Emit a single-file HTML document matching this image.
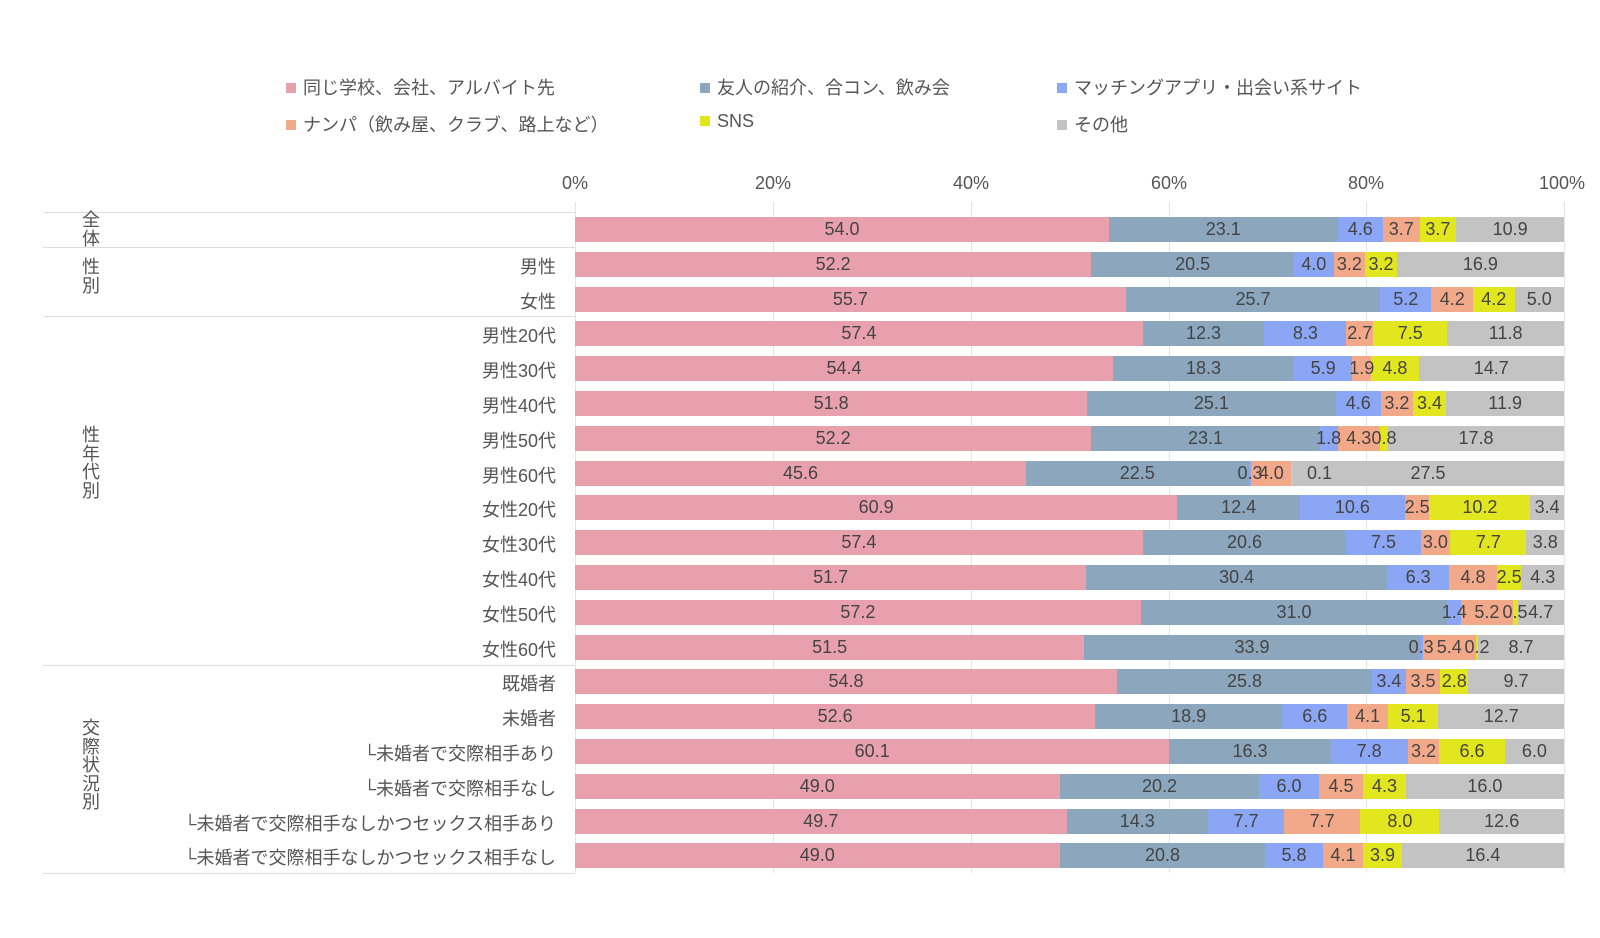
<!DOCTYPE html><html><head><meta charset="utf-8"><style>
body{margin:0;width:1600px;height:938px;background:#fff;font-family:"Liberation Sans","Noto Sans CJK JP",sans-serif;color:#555;position:relative;overflow:hidden}
.a{position:absolute}
.leg{font-size:18px;color:#555;white-space:nowrap}
.leg i{display:inline-block;width:10px;height:10px;margin-right:7px;vertical-align:1px}
.bar{position:absolute;left:575px;width:989px;height:25px;display:flex}
.bar span{display:flex;align-items:center;justify-content:center;font-size:18px;color:#444;white-space:nowrap;min-width:0;overflow:visible}
.bar span b{font-weight:normal;position:relative;z-index:1}
.p{background:#E8A1AC}.b{background:#8CA6BE}.u{background:#8AA6F5}.o{background:#F2A98A}.y{background:#E2E61E}.g{background:#C3C3C3}
.rl{position:absolute;right:1044px;font-size:18px;color:#555;white-space:nowrap;text-align:right}
.gl{position:absolute;left:81px;width:20px;font-size:18px;line-height:18.5px;text-align:center;color:#555}
.hl{position:absolute;left:43px;width:532px;height:1px;background:#ddd}
.vl{position:absolute;top:202px;height:671px;width:1px;background:#e4e4e4}
.tk{position:absolute;top:173px;font-size:18px;color:#555;transform:translateX(-50%)}
</style></head><body>
<div class="a leg" style="left:286px;top:74px"><i class="p"></i>同じ学校、会社、アルバイト先</div>
<div class="a leg" style="left:700px;top:74px"><i class="b"></i>友人の紹介、合コン、飲み会</div>
<div class="a leg" style="left:1057px;top:74px"><i class="u"></i>マッチングアプリ・出会い系サイト</div>
<div class="a leg" style="left:286px;top:111px"><i class="o"></i>ナンパ（飲み屋、クラブ、路上など）</div>
<div class="a leg" style="left:700px;top:111px"><i class="y"></i>SNS</div>
<div class="a leg" style="left:1057px;top:111px"><i class="g"></i>その他</div>
<div class="tk" style="left:575px">0%</div><div class="tk" style="left:773px">20%</div><div class="tk" style="left:971px">40%</div><div class="tk" style="left:1169px">60%</div><div class="tk" style="left:1366px">80%</div><div class="tk" style="left:1562px">100%</div>
<div class="vl" style="left:575px"></div><div class="vl" style="left:773px"></div><div class="vl" style="left:971px"></div><div class="vl" style="left:1169px"></div><div class="vl" style="left:1366px"></div><div class="vl" style="left:1564px"></div>
<div class="hl" style="top:212px"></div><div class="hl" style="top:247px"></div><div class="hl" style="top:316px"></div><div class="hl" style="top:665px"></div><div class="hl" style="top:873px"></div>
<div class="gl" style="top:211px">全<br>体</div>
<div class="gl" style="top:258px">性<br>別</div>
<div class="gl" style="top:426px">性<br>年<br>代<br>別</div>
<div class="gl" style="top:719px">交<br>際<br>状<br>況<br>別</div>
<div class="rl" style="top:253px">男性</div>
<div class="rl" style="top:288px">女性</div>
<div class="rl" style="top:322px">男性20代</div>
<div class="rl" style="top:357px">男性30代</div>
<div class="rl" style="top:392px">男性40代</div>
<div class="rl" style="top:427px">男性50代</div>
<div class="rl" style="top:462px">男性60代</div>
<div class="rl" style="top:496px">女性20代</div>
<div class="rl" style="top:531px">女性30代</div>
<div class="rl" style="top:566px">女性40代</div>
<div class="rl" style="top:601px">女性50代</div>
<div class="rl" style="top:636px">女性60代</div>
<div class="rl" style="top:670px">既婚者</div>
<div class="rl" style="top:705px">未婚者</div>
<div class="rl" style="top:740px">└未婚者で交際相手あり</div>
<div class="rl" style="top:775px">└未婚者で交際相手なし</div>
<div class="rl" style="top:810px">└未婚者で交際相手なしかつセックス相手あり</div>
<div class="rl" style="top:844px">└未婚者で交際相手なしかつセックス相手なし</div>

<div class="bar" style="top:217px"><span class="p" style="flex:54.0"><b>54.0</b></span><span class="b" style="flex:23.1"><b>23.1</b></span><span class="u" style="flex:4.6"><b>4.6</b></span><span class="o" style="flex:3.7"><b>3.7</b></span><span class="y" style="flex:3.7"><b>3.7</b></span><span class="g" style="flex:10.9"><b>10.9</b></span></div>
<div class="bar" style="top:252px"><span class="p" style="flex:52.2"><b>52.2</b></span><span class="b" style="flex:20.5"><b>20.5</b></span><span class="u" style="flex:4.0"><b>4.0</b></span><span class="o" style="flex:3.2"><b>3.2</b></span><span class="y" style="flex:3.2"><b>3.2</b></span><span class="g" style="flex:16.9"><b>16.9</b></span></div>
<div class="bar" style="top:287px"><span class="p" style="flex:55.7"><b>55.7</b></span><span class="b" style="flex:25.7"><b>25.7</b></span><span class="u" style="flex:5.2"><b>5.2</b></span><span class="o" style="flex:4.2"><b>4.2</b></span><span class="y" style="flex:4.2"><b>4.2</b></span><span class="g" style="flex:5.0"><b>5.0</b></span></div>
<div class="bar" style="top:321px"><span class="p" style="flex:57.4"><b>57.4</b></span><span class="b" style="flex:12.3"><b>12.3</b></span><span class="u" style="flex:8.3"><b>8.3</b></span><span class="o" style="flex:2.7"><b>2.7</b></span><span class="y" style="flex:7.5"><b>7.5</b></span><span class="g" style="flex:11.8"><b>11.8</b></span></div>
<div class="bar" style="top:356px"><span class="p" style="flex:54.4"><b>54.4</b></span><span class="b" style="flex:18.3"><b>18.3</b></span><span class="u" style="flex:5.9"><b>5.9</b></span><span class="o" style="flex:1.9"><b>1.9</b></span><span class="y" style="flex:4.8"><b>4.8</b></span><span class="g" style="flex:14.7"><b>14.7</b></span></div>
<div class="bar" style="top:391px"><span class="p" style="flex:51.8"><b>51.8</b></span><span class="b" style="flex:25.1"><b>25.1</b></span><span class="u" style="flex:4.6"><b>4.6</b></span><span class="o" style="flex:3.2"><b>3.2</b></span><span class="y" style="flex:3.4"><b>3.4</b></span><span class="g" style="flex:11.9"><b>11.9</b></span></div>
<div class="bar" style="top:426px"><span class="p" style="flex:52.2"><b>52.2</b></span><span class="b" style="flex:23.1"><b>23.1</b></span><span class="u" style="flex:1.8"><b>1.8</b></span><span class="o" style="flex:4.3"><b>4.3</b></span><span class="y" style="flex:0.8"><b>0.8</b></span><span class="g" style="flex:17.8"><b>17.8</b></span></div>
<div class="bar" style="top:461px"><span class="p" style="flex:45.6"><b>45.6</b></span><span class="b" style="flex:22.5"><b>22.5</b></span><span class="u" style="flex:0.3"><b>0.3</b></span><span class="o" style="flex:4.0"><b>4.0</b></span><span class="y" style="flex:0.1"><b style="left:28px">0.1</b></span><span class="g" style="flex:27.5"><b>27.5</b></span></div>
<div class="bar" style="top:495px"><span class="p" style="flex:60.9"><b>60.9</b></span><span class="b" style="flex:12.4"><b>12.4</b></span><span class="u" style="flex:10.6"><b>10.6</b></span><span class="o" style="flex:2.5"><b>2.5</b></span><span class="y" style="flex:10.2"><b>10.2</b></span><span class="g" style="flex:3.4"><b>3.4</b></span></div>
<div class="bar" style="top:530px"><span class="p" style="flex:57.4"><b>57.4</b></span><span class="b" style="flex:20.6"><b>20.6</b></span><span class="u" style="flex:7.5"><b>7.5</b></span><span class="o" style="flex:3.0"><b>3.0</b></span><span class="y" style="flex:7.7"><b>7.7</b></span><span class="g" style="flex:3.8"><b>3.8</b></span></div>
<div class="bar" style="top:565px"><span class="p" style="flex:51.7"><b>51.7</b></span><span class="b" style="flex:30.4"><b>30.4</b></span><span class="u" style="flex:6.3"><b>6.3</b></span><span class="o" style="flex:4.8"><b>4.8</b></span><span class="y" style="flex:2.5"><b>2.5</b></span><span class="g" style="flex:4.3"><b>4.3</b></span></div>
<div class="bar" style="top:600px"><span class="p" style="flex:57.2"><b>57.2</b></span><span class="b" style="flex:31.0"><b>31.0</b></span><span class="u" style="flex:1.4"><b>1.4</b></span><span class="o" style="flex:5.2"><b>5.2</b></span><span class="y" style="flex:0.5"><b>0.5</b></span><span class="g" style="flex:4.7"><b>4.7</b></span></div>
<div class="bar" style="top:635px"><span class="p" style="flex:51.5"><b>51.5</b></span><span class="b" style="flex:33.9"><b>33.9</b></span><span class="u" style="flex:0.3"><b>0.3</b></span><span class="o" style="flex:5.4"><b>5.4</b></span><span class="y" style="flex:0.2"><b>0.2</b></span><span class="g" style="flex:8.7"><b>8.7</b></span></div>
<div class="bar" style="top:669px"><span class="p" style="flex:54.8"><b>54.8</b></span><span class="b" style="flex:25.8"><b>25.8</b></span><span class="u" style="flex:3.4"><b>3.4</b></span><span class="o" style="flex:3.5"><b>3.5</b></span><span class="y" style="flex:2.8"><b>2.8</b></span><span class="g" style="flex:9.7"><b>9.7</b></span></div>
<div class="bar" style="top:704px"><span class="p" style="flex:52.6"><b>52.6</b></span><span class="b" style="flex:18.9"><b>18.9</b></span><span class="u" style="flex:6.6"><b>6.6</b></span><span class="o" style="flex:4.1"><b>4.1</b></span><span class="y" style="flex:5.1"><b>5.1</b></span><span class="g" style="flex:12.7"><b>12.7</b></span></div>
<div class="bar" style="top:739px"><span class="p" style="flex:60.1"><b>60.1</b></span><span class="b" style="flex:16.3"><b>16.3</b></span><span class="u" style="flex:7.8"><b>7.8</b></span><span class="o" style="flex:3.2"><b>3.2</b></span><span class="y" style="flex:6.6"><b>6.6</b></span><span class="g" style="flex:6.0"><b>6.0</b></span></div>
<div class="bar" style="top:774px"><span class="p" style="flex:49.0"><b>49.0</b></span><span class="b" style="flex:20.2"><b>20.2</b></span><span class="u" style="flex:6.0"><b>6.0</b></span><span class="o" style="flex:4.5"><b>4.5</b></span><span class="y" style="flex:4.3"><b>4.3</b></span><span class="g" style="flex:16.0"><b>16.0</b></span></div>
<div class="bar" style="top:809px"><span class="p" style="flex:49.7"><b>49.7</b></span><span class="b" style="flex:14.3"><b>14.3</b></span><span class="u" style="flex:7.7"><b>7.7</b></span><span class="o" style="flex:7.7"><b>7.7</b></span><span class="y" style="flex:8.0"><b>8.0</b></span><span class="g" style="flex:12.6"><b>12.6</b></span></div>
<div class="bar" style="top:843px"><span class="p" style="flex:49.0"><b>49.0</b></span><span class="b" style="flex:20.8"><b>20.8</b></span><span class="u" style="flex:5.8"><b>5.8</b></span><span class="o" style="flex:4.1"><b>4.1</b></span><span class="y" style="flex:3.9"><b>3.9</b></span><span class="g" style="flex:16.4"><b>16.4</b></span></div>
</body></html>
